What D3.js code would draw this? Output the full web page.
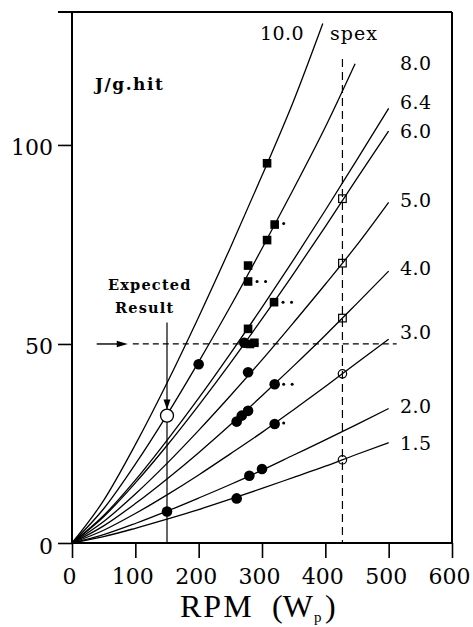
<!DOCTYPE html>
<html>
<head>
<meta charset="utf-8">
<script src="https://cdn.jsdelivr.net/npm/d3@7"></script>
<style>
  body { margin: 0; background: #fff; }
  svg { display: block; }
</style>
</head>
<body>
<svg id="chart" width="473" height="627"></svg>
<script>
// Specific energy (J/g.hit) against beater speed RPM (Wp) for several spex levels.

// Curve points [rpm, J/g.hit] for each spex level
const curve10_0 = [[0,0],[50,10.7],[100,24.7],[150,40.2],[200,56.8],[250,74.2],[300,92.3],[350,111.1],[396,130.5]];
const curve8_0  = [[0,0],[50,8.6],[100,19.8],[150,32.2],[200,45.5],[250,59.4],[300,74.0],[350,89.0],[400,104.5],[447,120.4]];
const curve6_4  = [[0,0],[50,6.9],[100,15.8],[150,25.8],[200,36.4],[250,47.6],[300,59.2],[350,71.2],[400,83.6],[450,96.3],[500,109.2]];
const curve6_0  = [[0,0],[50,6.6],[100,15.1],[150,24.5],[200,34.6],[250,45.2],[300,56.3],[350,67.7],[400,79.5],[450,91.6],[500,103.5]];
const curve5_0  = [[0,0],[50,5.4],[100,12.3],[150,20.0],[200,28.3],[250,37.0],[300,46.0],[350,55.4],[400,65.0],[450,74.9],[500,85.6]];
const curve4_0  = [[0,0],[50,4.3],[100,9.9],[150,16.1],[200,22.7],[250,29.7],[300,37.0],[350,44.5],[400,52.2],[450,60.2],[500,68.3]];
const curve3_0  = [[0,0],[50,3.2],[100,7.4],[150,12.1],[200,17.1],[250,22.4],[300,27.8],[350,33.5],[400,39.3],[450,45.3],[500,51.2]];
const curve2_0  = [[0,0],[50,2.1],[100,4.9],[150,8.0],[200,11.3],[250,14.7],[300,18.3],[350,22.1],[400,25.9],[450,29.8],[500,33.8]];
const curve1_5  = [[0,0],[50,1.6],[100,3.7],[150,6.0],[200,8.4],[250,11.0],[300,13.7],[350,16.5],[400,19.3],[450,22.3],[500,25.2]];

const spexLabels = ["10.0", "8.0", "6.4", "6.0", "5.0", "4.0", "3.0", "2.0", "1.5"];

// Measured points
const filledSquares = [[308,95.4],[320,80.0],[308,76.1],[278,69.7],[278,65.7],[319,60.5],[278,53.8],[281,50.0],[288,50.3]];
const squareMarks   = [0, 1, 0, 0, 2, 2, 0, 0, 0];
const filledCircles = [[200,44.9],[272,50.3],[278,42.9],[320,39.9],[260,30.5],[268,32.0],[278,33.2],[320,29.9],[280,16.9],[300,18.6],[260,11.2],[150,7.9]];
const circleMarks   = [0, 0, 0, 2, 0, 0, 0, 1, 0, 0, 0, 0];

// Predicted points at the reference speed
const refRpm = 427;
const openSquares = [[427,86.5],[427,70.3],[427,56.5]];
const openCircles = [[427,42.5],[427,20.9]];

// Expected result
const targetEnergy = 50;
const expectedResult = [150, 32.0];

const xTicks = [0, 100, 200, 300, 400, 500, 600];
const yTicks = [0, 50, 100];

// ---------------------------------------------------------------
const svg = d3.select("#chart");
const plotLeft = 72, plotRight = 452, plotTop = 12, plotBottom = 543;

const x = d3.scaleLinear().domain([0, 600]).range([plotLeft, plotRight]);
const y = d3.scaleLinear().domain([0, 133.4]).range([plotBottom, plotTop]);

const serif = "'DejaVu Serif', serif";

// Axes
const xAxis = svg.append("g")
  .attr("transform", `translate(0,${plotBottom})`)
  .call(d3.axisBottom(x).tickValues(xTicks).tickSize(15).tickFormat(d3.format("d")));
xAxis.select(".domain").remove();
xAxis.selectAll(".tick line").attr("stroke", "#000").attr("stroke-width", 1.6);
xAxis.selectAll(".tick text")
  .attr("y", 41).attr("dy", null).attr("dx", -3)
  .attr("font-family", serif).attr("font-size", 22).attr("fill", "#000");

const yAxis = svg.append("g")
  .attr("transform", `translate(${plotLeft},0)`)
  .call(d3.axisLeft(y).tickValues(yTicks).tickSize(14).tickFormat(d3.format("d")));
yAxis.select(".domain").remove();
yAxis.selectAll(".tick line").attr("stroke", "#000").attr("stroke-width", 1.6);
yAxis.selectAll(".tick text")
  .attr("x", -19).attr("dy", 10)
  .attr("font-family", serif).attr("font-size", 22).attr("fill", "#000");

// Frame
const frame = svg.append("g").attr("stroke", "#000").attr("stroke-width", 2).attr("fill", "none");
frame.append("line").attr("x1", plotLeft).attr("x2", plotLeft).attr("y1", plotTop).attr("y2", plotBottom);
frame.append("line").attr("x1", plotLeft).attr("x2", plotRight).attr("y1", plotBottom).attr("y2", plotBottom);
frame.append("line").attr("x1", plotRight).attr("x2", plotRight).attr("y1", plotTop).attr("y2", plotBottom);
frame.append("line").attr("x1", plotLeft - 14).attr("x2", plotRight).attr("y1", plotTop).attr("y2", plotTop);

// Reference lines
svg.append("line")
  .attr("x1", x(refRpm)).attr("x2", x(refRpm))
  .attr("y1", y(121.6)).attr("y2", y(0))
  .attr("stroke", "#000").attr("stroke-width", 1.2).attr("stroke-dasharray", "8,5");

svg.append("line")
  .attr("x1", x(96)).attr("x2", x(512.6))
  .attr("y1", y(targetEnergy)).attr("y2", y(targetEnergy))
  .attr("stroke", "#000").attr("stroke-width", 1.2).attr("stroke-dasharray", "6,4");

// Arrow pointing at the 50 J/g.hit level
svg.append("line")
  .attr("x1", x(39)).attr("x2", x(80))
  .attr("y1", y(targetEnergy)).attr("y2", y(targetEnergy))
  .attr("stroke", "#000").attr("stroke-width", 1.4);
svg.append("path")
  .attr("d", `M${x(88)},${y(targetEnergy)} l-11,-3.2 l0,6.4 Z`)
  .attr("fill", "#000");

// Curves
const curves = [curve10_0, curve8_0, curve6_4, curve6_0, curve5_0, curve4_0, curve3_0, curve2_0, curve1_5];
const line = d3.line().x(d => x(d[0])).y(d => y(d[1])).curve(d3.curveMonotoneX);

svg.append("g")
  .selectAll("path")
  .data(curves)
  .join("path")
  .attr("d", line)
  .attr("fill", "none")
  .attr("stroke", "#000")
  .attr("stroke-width", 1.3);

// Curve labels
const labelNudge = [0, 6, 1, 7, 5, 4, 0, 5, 7];
svg.append("g")
  .selectAll("text")
  .data(spexLabels.slice(1))
  .join("text")
  .attr("x", 400)
  .attr("y", (d, i) => y(curves[i + 1][curves[i + 1].length - 1][1]) + labelNudge[i + 1])
  .attr("font-family", serif).attr("font-size", 19).attr("letter-spacing", 0.4)
  .attr("fill", "#000")
  .text(d => d);

svg.append("text")
  .attr("x", 260).attr("y", 40)
  .attr("font-family", serif).attr("font-size", 19).attr("letter-spacing", 0.4)
  .text(spexLabels[0]);
svg.append("text")
  .attr("x", 330).attr("y", 40)
  .attr("font-family", serif).attr("font-size", 19).attr("letter-spacing", 1)
  .text("spex");

// Expected result: vertical guide, arrow and open circle
svg.append("line")
  .attr("x1", x(expectedResult[0])).attr("x2", x(expectedResult[0]))
  .attr("y1", y(55.4)).attr("y2", y(0))
  .attr("stroke", "#000").attr("stroke-width", 1.2);
svg.append("path")
  .attr("d", `M${x(expectedResult[0])},${y(expectedResult[1]) - 6} l-3.5,-10 l7,0 Z`)
  .attr("fill", "#000");
svg.append("circle")
  .attr("cx", x(expectedResult[0])).attr("cy", y(expectedResult[1])).attr("r", 6.5)
  .attr("fill", "#fff").attr("stroke", "#000").attr("stroke-width", 1.3);

svg.append("text")
  .attr("x", 108).attr("y", 290)
  .attr("font-family", serif).attr("font-weight", "bold").attr("font-size", 14.5)
  .attr("letter-spacing", 1.2)
  .text("Expected");
svg.append("text")
  .attr("x", 115).attr("y", 313)
  .attr("font-family", serif).attr("font-weight", "bold").attr("font-size", 14.5)
  .attr("letter-spacing", 1.2)
  .text("Result");

// Unit label
svg.append("text")
  .attr("x", 95).attr("y", 90)
  .attr("font-family", serif).attr("font-weight", "bold").attr("font-size", 17)
  .attr("letter-spacing", 1.5)
  .text("J/g.hit");

// Open markers on the reference speed
svg.append("g")
  .selectAll("rect")
  .data(openSquares)
  .join("rect")
  .attr("x", d => x(d[0]) - 3.8).attr("y", d => y(d[1]) - 3.8)
  .attr("width", 7.6).attr("height", 7.6)
  .attr("fill", "none").attr("stroke", "#000").attr("stroke-width", 1.2);
svg.append("g")
  .selectAll("circle")
  .data(openCircles)
  .join("circle")
  .attr("cx", d => x(d[0])).attr("cy", d => y(d[1])).attr("r", 4.2)
  .attr("fill", "none").attr("stroke", "#000").attr("stroke-width", 1.2);

// Filled markers
svg.append("g")
  .selectAll("rect")
  .data(filledSquares)
  .join("rect")
  .attr("x", d => x(d[0]) - 4.3).attr("y", d => y(d[1]) - 4.3)
  .attr("width", 8.6).attr("height", 8.6)
  .attr("fill", "#000");
svg.append("g")
  .selectAll("circle")
  .data(filledCircles)
  .join("circle")
  .attr("cx", d => x(d[0])).attr("cy", d => y(d[1])).attr("r", 5.3)
  .attr("fill", "#000");

// Small note dots beside some points
function noteDots(points, marks) {
  const dots = [];
  points.forEach((p, i) => {
    for (let k = 0; k < marks[i]; k++) dots.push([x(p[0]) + 9 + k * 8.5, y(p[1]) + (marks[i] === 1 ? -1 : 0)]);
  });
  svg.append("g")
    .selectAll("circle")
    .data(dots)
    .join("circle")
    .attr("cx", d => d[0]).attr("cy", d => d[1]).attr("r", 1.5)
    .attr("fill", "#000");
}
noteDots(filledSquares, squareMarks);
noteDots(filledCircles, circleMarks);

// X axis title
const xTitle = svg.append("text")
  .attr("y", 617)
  .attr("font-family", "'Liberation Serif', serif").attr("font-size", 32)
  .attr("fill", "#000");
xTitle.append("tspan").attr("x", 180).attr("letter-spacing", 2).text("RPM");
xTitle.append("tspan").attr("x", 272).text("(W");
xTitle.append("tspan").attr("x", 314).attr("y", 622).attr("font-size", 15).text("p");
xTitle.append("tspan").attr("x", 325).attr("y", 617).text(")");
</script>
</body>
</html>
